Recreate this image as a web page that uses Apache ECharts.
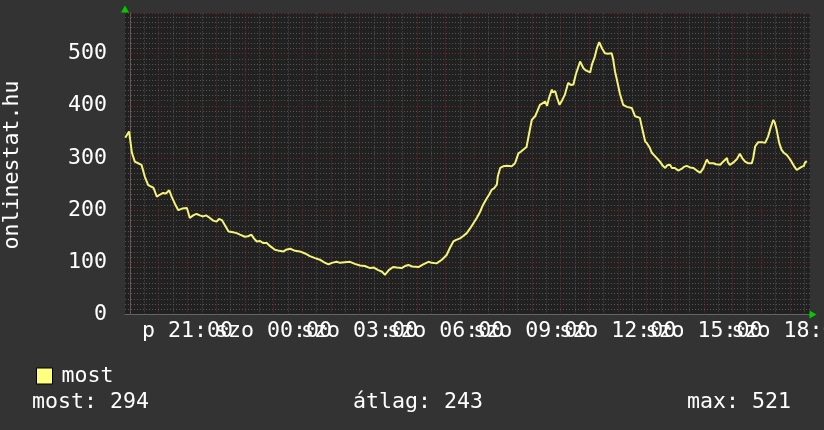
<!DOCTYPE html>
<html><head><meta charset="utf-8">
<script src="https://cdn.jsdelivr.net/npm/echarts@6/dist/echarts.min.js"></script>
<style>html,body{margin:0;padding:0;background:#333333;}#c{width:824px;height:430px;}</style>
</head><body><div id="c"></div>
<script>
// time in minutes after 19:00 (Friday), value = online users
const times = [-10,-6,-2,4,10,17,24,31,38,49,56,63,69,75,82,87,94,101,109,119,125,132,139,146,153,159,167,174,181,186,192,199,206,213,223,230,240,247,254,259,265,272,278,286,293,303,312,321,326,335,345,355,366,376,387,397,406,415,422,432,439,449,460,470,481,491,502,510,519,527,533,541,550,558,568,575,582,590,603,613,624,631,641,652,656,662,669,676,682,690,696,704,711,718,725,732,738,746,751,756,761,767,769,774,780,788,792,798,805,812,817,822,829,834,840,847,851,857,861,868,872,876,882,884,889,893,898,903,909,916,922,927,932,941,948,953,962,966,972,976,981,987,993,999,1007,1010,1014,1018,1024,1031,1039,1049,1056,1066,1070,1077,1081,1087,1091,1098,1102,1108,1114,1119,1123,1129,1133,1139,1146,1153,1158,1164,1171,1178,1185,1192,1198,1206,1211,1220,1225,1234,1240,1248,1250,1254,1261,1269,1275,1280,1286,1292,1300,1303,1307,1313,1317,1323,1328,1334,1340,1345,1348,1352,1357,1362,1367,1373,1378,1383,1388,1394,1399,1404,1409,1411,1415];
const values = [339,340,351,310,293,290,287,264,248,243,226,230,233,232,238,226,212,200,203,204,185,190,193,190,188,190,185,180,178,183,181,170,159,158,156,153,149,150,153,146,140,141,137,137,131,124,122,121,124,126,122,121,117,112,108,105,100,96,99,101,99,100,101,97,94,93,89,90,85,82,76,85,91,90,89,93,95,92,91,96,101,99,98,105,107,114,128,140,143,146,150,156,165,175,185,197,210,223,230,239,242,249,265,281,284,285,283,284,290,309,312,316,321,345,373,380,383,402,405,408,400,415,431,426,428,415,402,410,421,444,440,441,460,485,472,468,464,480,495,510,522,510,501,500,501,490,466,450,424,402,398,396,380,377,360,332,328,319,310,303,299,293,285,281,286,287,281,281,276,279,283,285,282,281,276,272,279,297,290,290,288,287,293,300,292,287,291,298,308,300,293,290,290,300,322,330,332,330,329,341,360,373,368,354,330,316,310,306,300,293,285,277,280,283,285,291,294];
const xTickValues = [120,300,480,660,840,1020,1200,1380];
const xTickLabels = ['p 21:00','szo 00:00','szo 03:00','szo 06:00','szo 09:00','szo 12:00','szo 15:00','szo 18:00'];
const majorGridX = [0,60,120,180,240,300,360,420,480,540,600,660,720,780,840,900,960,1020,1080,1140,1200,1260,1320,1380];
const minorGridX = [30,90,150,210,270,330,390,450,510,570,630,690,750,810,870,930,990,1050,1110,1170,1230,1290,1350,1410];
const seriesName = 'most';
const statLabels = ['most','átlag','max'];
const statValues = [294,243,521];
const axisTitle = 'onlinestat.hu';

const X_MIN = -10.5, X_MAX = 1421.7, Y_MAX = 578;
const FONT = '"DejaVu Sans Mono", monospace';
const FS = 21.6;
const data = times.map((t,i)=>[t, values[i]]);

const chart = echarts.init(document.getElementById('c'), null, {renderer:'canvas'});
const gridLines = minorGridX.map(v=>({xAxis:v, lineStyle:{color:'#555555', type:[1,2], width:1}}))
  .concat(majorGridX.map(v=>({xAxis:v, lineStyle:{color:'#7a2a2a', type:[1,2], width:1}})));

// split labels into two axes so neighbouring (overlapping) labels are not auto-hidden
const evenTicks = xTickValues.filter((v,i)=>i%2===0);
const oddTicks = xTickValues.filter((v,i)=>i%2===1);
function xAxisFor(ticks, showLine){
  return {type:'value', min:X_MIN, max:X_MAX, position:'bottom',
    axisLine:{show:showLine, lineStyle:{color:'#666666'}},
    axisTick:{show:false}, splitLine:{show:false},
    axisLabel:{customValues:ticks, hideOverlap:false, showMinLabel:true, showMaxLabel:true,
      formatter:(v)=>{const i=xTickValues.indexOf(v); return i>=0?xTickLabels[i]:'';},
      color:'#ffffff', fontFamily:FONT, fontSize:FS, margin:6}};
}

chart.setOption({
  animation:false,
  backgroundColor:'#333333',
  grid:{left:125, right:14, top:13, bottom:115.5, show:true, backgroundColor:'#212121', borderWidth:0,
    containLabel:false, outerBoundsMode:'none'},
  xAxis:[xAxisFor(evenTicks, true), xAxisFor(oddTicks, false)],
  yAxis:[
    {type:'value', min:0, max:Y_MAX, interval:10, axisLabel:{show:false}, axisTick:{show:false}, axisLine:{show:false},
      splitLine:{show:true, lineStyle:{color:'#555555', type:[1,2], width:1}}},
    {type:'value', min:0, max:Y_MAX, interval:100, position:'left',
      axisLine:{show:true, lineStyle:{color:'#666666'}}, axisTick:{show:false},
      axisLabel:{formatter:(v)=> v%100===0 ? String(v) : '', color:'#ffffff', fontFamily:FONT, fontSize:FS, margin:18,
        verticalAlign:'middle', padding:[6,0,0,0]},
      splitLine:{show:true, lineStyle:{color:'#7a2a2a', type:[1,2], width:1}}}
  ],
  legend:{data:[seriesName], left:31, top:360, icon:'rect', itemWidth:16, itemHeight:16,
    itemStyle:{borderColor:'#000000', borderWidth:1},
    textStyle:{color:'#ffffff', fontFamily:FONT, fontSize:FS, padding:[0,0,0,4]}},
  series:[
    {name:'grid', type:'line', data:data, yAxisIndex:1, z:1, symbol:'none', lineStyle:{width:0, opacity:0}, silent:true,
      markLine:{silent:true, symbol:['none','none'], label:{show:false}, data:gridLines},
      markPoint:{silent:true, label:{show:false}, data:[
        {coord:[X_MIN, Y_MAX], symbol:'triangle', symbolSize:[8,7], symbolOffset:[0,-4], itemStyle:{color:'#00cc00'}},
        {coord:[X_MAX, 0], symbol:'triangle', symbolRotate:-90, symbolSize:[8,7], symbolOffset:[3,0], itemStyle:{color:'#00cc00'}}
      ]}},
    {name:seriesName, type:'line', data:data, yAxisIndex:1, z:5, symbol:'none', color:'#ffff80',
      lineStyle:{color:'#f4f47a', width:2}}
  ],
  graphic:[
    {type:'text', x:12.5, y:165, rotation:Math.PI/2, style:{text:axisTitle, fill:'#ffffff', font:FS+'px '+FONT, align:'center', verticalAlign:'middle'}},
    {type:'text', x:32, y:402, style:{text:statLabels[0]+': '+statValues[0], fill:'#ffffff', font:FS+'px '+FONT, verticalAlign:'middle'}},
    {type:'text', x:353, y:402, style:{text:statLabels[1]+': '+statValues[1], fill:'#ffffff', font:FS+'px '+FONT, verticalAlign:'middle'}},
    {type:'text', x:687, y:402, style:{text:statLabels[2]+': '+statValues[2], fill:'#ffffff', font:FS+'px '+FONT, verticalAlign:'middle'}}
  ]
});
</script></body></html>
